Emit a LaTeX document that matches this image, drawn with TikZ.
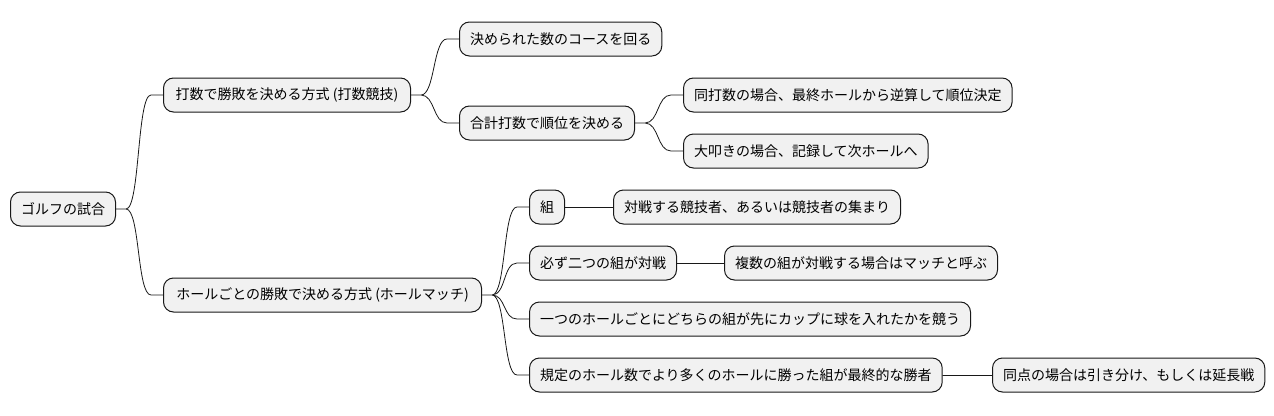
\documentclass[tikz,border=0pt]{standalone}
\usepackage{fontspec}
\setmainfont{Noto Sans CJK JP}
\usetikzlibrary{positioning}
\definecolor{gmfill}{HTML}{F1F1F1}
\definecolor{gmline}{HTML}{181818}
\tikzset{
  gm map/.style={
    x=1pt,
    y=-1pt,
    line width=1pt,
    line cap=round,
    line join=round
  },
  gm box/.style={
    draw=gmline,
    fill=gmfill,
    rounded corners=10pt,
    font=\fontsize{14pt}{16pt}\selectfont,
    inner xsep=10.5pt,
    inner ysep=0pt,
    minimum height=34pt,
    anchor=west
  },
  gm link/.style={
    draw=gmline,
    line width=0.8pt,
    to path={(\tikztostart.east) -- ++(10,0)
      .. controls +(14,0) and +(-14,0) .. ([xshift=-12pt]\tikztotarget.west)
      -- (\tikztotarget.west)}
  },
  gm line/.style={
    draw=gmline,
    line width=0.8pt
  }
}

\begin{document}
\begin{tikzpicture}[gm map]
  \useasboundingbox (0,0) rectangle (1274,415);
  % root
  \node[gm box] (golf) at (10,209) {ゴルフの試合};
  % stroke play
  \node[gm box, minimum width=247pt] (stroke) at (163,95) {打数で勝敗を決める方式 (打数競技)};
  \node[gm box] (course) at (459,39) {決められた数のコースを回る};
  \node[gm box] (total) at (459,123) {合計打数で順位を決める};
  \node[gm box] (tie) at (683,95) {同打数の場合、最終ホールから逆算して順位決定};
  \node[gm box] (big) at (683,151) {大叩きの場合、記録して次ホールへ};
  % match play
  \node[gm box, minimum width=318pt] (match) at (163,295) {ホールごとの勝敗で決める方式 (ホールマッチ)};
  \node[gm box] (side) at (529,207) {組};
  \node[gm box] (sidedef) at (613,207) {対戦する競技者、あるいは競技者の集まり};
  \node[gm box] (two) at (529,263) {必ず二つの組が対戦};
  \node[gm box] (many) at (724,263) {複数の組が対戦する場合はマッチと呼ぶ};
  \node[gm box] (hole) at (529,319) {一つのホールごとにどちらの組が先にカップに球を入れたかを競う};
  \node[gm box] (win) at (529,375) {規定のホール数でより多くのホールに勝った組が最終的な勝者};
  \node[gm box] (draw) at (992,375) {同点の場合は引き分け、もしくは延長戦};

  \path[gm link] (golf) to (stroke) (golf) to (match);
  \path[gm link] (stroke) to (course) (stroke) to (total);
  \path[gm link] (total) to (tie) (total) to (big);
  \path[gm link] (match) to (side) (match) to (two)
                 (match) to (hole) (match) to (win);
  \draw[gm line] (side) -- (sidedef);
  \draw[gm line] (two) -- (many);
  \draw[gm line] (win) -- (draw);
\end{tikzpicture}
\end{document}
